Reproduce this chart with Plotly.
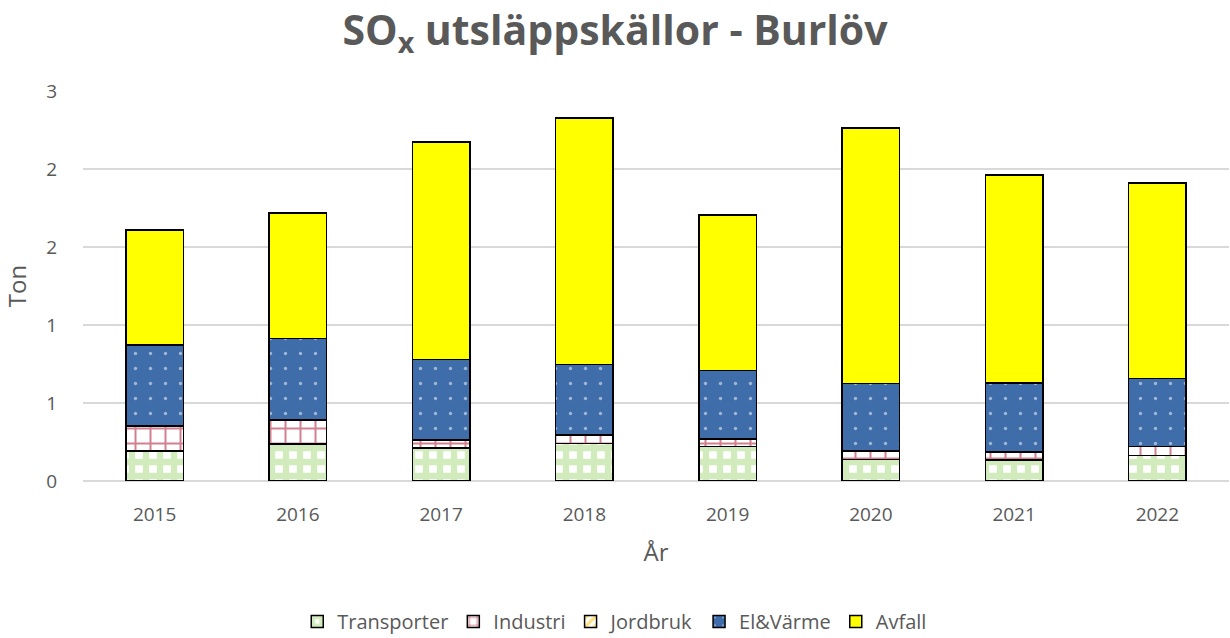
import plotly.graph_objects as go

years = ["2015", "2016", "2017", "2018", "2019", "2020", "2021", "2022"]
transporter = [0.192, 0.237, 0.213, 0.241, 0.220, 0.139, 0.135, 0.162]
industri = [0.161, 0.154, 0.048, 0.052, 0.047, 0.051, 0.051, 0.058]
jordbruk = [0.001, 0.001, 0.001, 0.001, 0.001, 0.001, 0.001, 0.001]
el_varme = [0.518, 0.520, 0.516, 0.454, 0.439, 0.433, 0.441, 0.437]
avfall = [0.737, 0.806, 1.395, 1.579, 0.998, 1.639, 1.334, 1.252]

tick_vals = [0, 0.5, 1, 1.5, 2, 2.5]
tick_text = ["0", "1", "1", "2", "2", "3"]

FONT = "Open Sans"
GREY = "#595959"

fig = go.Figure()
line = dict(color="black", width=1.5)
fig.add_trace(go.Bar(name="Transporter", x=years, y=transporter,
                     marker=dict(color="white", line=line,
                                 pattern=dict(shape="+", fgcolor="#A6D77A", bgcolor="white",
                                              size=14, solidity=0.7))))
fig.add_trace(go.Bar(name="Industri", x=years, y=industri,
                     marker=dict(color="white", line=line,
                                 pattern=dict(shape="+", fgcolor="#A50021", bgcolor="white",
                                              size=15, solidity=0.25))))
fig.add_trace(go.Bar(name="Jordbruk", x=years, y=jordbruk,
                     marker=dict(color="white", line=line,
                                 pattern=dict(shape="/", fgcolor="#FFC000", bgcolor="white",
                                              size=8, solidity=0.5))))
fig.add_trace(go.Bar(name="El&Värme", x=years, y=el_varme,
                     marker=dict(color="#3F6DAA", line=line,
                                 pattern=dict(shape=".", fgcolor="white", bgcolor="#3F6DAA",
                                              size=15, solidity=0.04))))
fig.add_trace(go.Bar(name="Avfall", x=years, y=avfall,
                     marker=dict(color="#FFFF00", line=line)))

fig.update_layout(
    barmode="stack",
    bargap=0.6,
    width=1230, height=638,
    paper_bgcolor="white", plot_bgcolor="white",
    margin=dict(l=83, r=1, t=91, b=157, autoexpand=False),
    font=dict(family=FONT, color=GREY, size=18),
    title=dict(text="<b>SO<sub>x</sub> utsläppskällor - Burlöv</b>",
               x=0.5, xanchor="center", y=0.975, yanchor="top",
               font=dict(family=FONT, size=41, color=GREY)),
    legend=dict(orientation="h", x=0.464, xanchor="center", y=-0.31, yanchor="top",
                font=dict(size=20, color=GREY), traceorder="normal",
                itemwidth=30),
    showlegend=True,
)
fig.update_xaxes(showgrid=False, showline=False, ticks="", automargin=False,
                 ticklabelstandoff=20,
                 tickfont=dict(size=19, color=GREY),
                 title=dict(text="År", font=dict(size=24, color=GREY), standoff=18))
fig.update_yaxes(range=[0, 2.5], tickvals=tick_vals, ticktext=tick_text,
                 showgrid=True, gridcolor="#D9D9D9", gridwidth=1.5,
                 zeroline=True, zerolinecolor="#D9D9D9", zerolinewidth=1.5,
                 showline=False, ticks="", ticklabelstandoff=25, automargin=False,
                 tickfont=dict(size=19, color=GREY),
                 title=dict(text="Ton", font=dict(size=24, color=GREY), standoff=22))

fig.write_html("out.html", config={"displayModeBar": False},
               post_script="document.body.style.margin='0';")
